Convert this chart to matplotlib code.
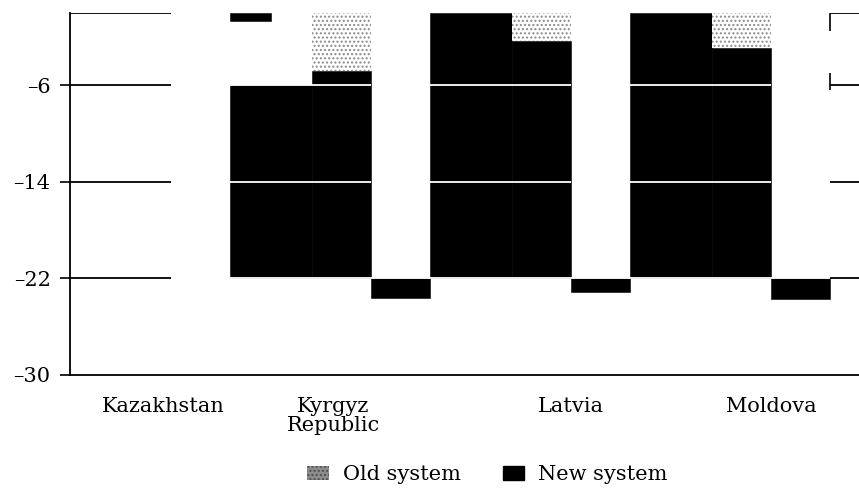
import numpy as np
import matplotlib
matplotlib.use("Agg")
import matplotlib.pyplot as plt
from matplotlib.patches import Patch

# ---- data read from the (scanned) reference ----
countries = ["Kazakhstan", "Kyrgyz\nRepublic", "Latvia", "Moldova"]
old_system = [np.nan, -4.8, -2.3, -2.9]      # depth of grey "old system" segment (from 0)
new_block_top = [np.nan, -6.0, 0.0, 0.0]     # top of wide black "new system" block
new_floor = -22.0                            # common lower edge of the big blocks
new_low = [np.nan, -23.6, -23.1, -23.7]      # small black bars below -22
kazakhstan_new = -0.7                        # small black bar near zero
y_ticks = [-6, -14, -22, -30]
grid_vals = [0, -6, -14, -22]

# ---- layout / style ----
plt.rcParams['font.family'] = ['DejaVu Serif']
plt.rcParams['hatch.linewidth'] = 1.0
FS = 15
W_A, W_B, W_C = 0.41, 0.295, 0.295
label_pos = [0.665, 1.515, 2.705, 3.705]
XMIN, XMAX = 0.2, 4.145

fig = plt.figure(figsize=(8.59, 4.91), dpi=100)
ax = fig.add_axes([70 / 859, 116 / 491, 789 / 859, 362 / 491])
ax.set_xlim(XMIN, XMAX)
ax.set_ylim(-30, 0)

black_rects = []
def black_bar(x0, w, top, bottom):
    ax.bar(x0, bottom - top, bottom=top, width=w, align='edge',
           color='black', edgecolor='black', linewidth=0.4, zorder=2)
    black_rects.append((x0, x0 + w, top, bottom))

hatch_kw = dict(facecolor='white', edgecolor='#8a8a8a', hatch='....', linewidth=0, zorder=2)

for i in range(1, len(countries)):
    x0 = float(i)
    black_bar(x0, W_A, new_block_top[i], new_floor)
    ax.bar(x0 + W_A, old_system[i], bottom=0, width=W_B, align='edge', **hatch_kw)
    black_bar(x0 + W_A, W_B, old_system[i], new_floor)
    black_bar(x0 + W_A + W_B, W_C, new_floor, new_low[i])

# Kazakhstan: small bar near zero
black_bar(1.0, 0.205, 0.0, kazakhstan_new)

# grid lines: dark on white margins, white where they cross black blocks
ax.hlines(grid_vals, XMIN, 1 - W_C, color='black', lw=1.3, zorder=1)
ax.hlines(grid_vals, 4.0, XMAX, color='black', lw=1.3, zorder=1)
for (x0, x1, top, bottom) in black_rects:
    for g in grid_vals[1:]:
        if bottom <= g <= top:
            ax.hlines(g, x0, x1, color='white', lw=1.3, zorder=3)
ax.vlines([4.0, 4.0], [0, -5.0], [-1.5, -6.4], color='black', lw=1.2, zorder=1)

# axes styling
for s in ['top', 'right']:
    ax.spines[s].set_visible(False)
for s in ['left', 'bottom']:
    ax.spines[s].set_linewidth(1.3)
ax.set_yticks(y_ticks)
ax.set_yticklabels([f"\u2013{abs(v)}" for v in y_ticks], fontsize=FS, va='center_baseline')
ax.tick_params(axis='y', direction='out', length=7, width=1.2, pad=7)
ax.set_xticks(label_pos)
ax.set_xticklabels(countries, fontsize=FS, linespacing=1.0)
ax.tick_params(axis='x', length=0, pad=16)

handles = [Patch(facecolor='#8c8c8c', edgecolor='#505050', hatch='....', linewidth=0, label='Old system'),
           Patch(facecolor='black', edgecolor='black', label='New system')]
fig.legend(handles=handles, loc='center', bbox_to_anchor=(0.5675, 0.033), ncol=2,
           frameon=False, fontsize=FS, handlelength=1.05, handleheight=0.7,
           handletextpad=0.65, columnspacing=2.0)

fig.savefig("out.png", dpi=100)
